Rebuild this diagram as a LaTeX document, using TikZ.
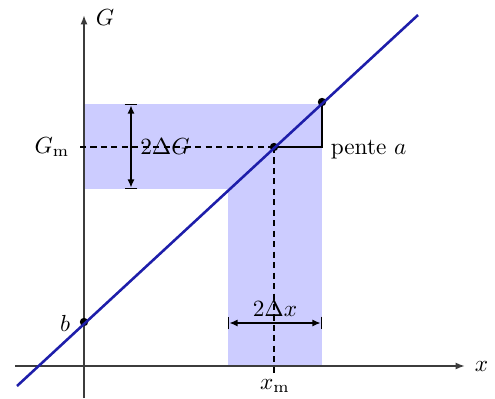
\documentclass[tikz,border=0pt]{standalone}
\usetikzlibrary{arrows.meta}
\definecolor{zonecol}{RGB}{204,204,255}
\definecolor{linec}{RGB}{30,30,170}
\definecolor{axisc}{RGB}{60,60,60}
\begin{document}
\begin{tikzpicture}[x=0.43pt,y=-0.43pt,
  axis/.style={draw=axisc,line width=0.75pt,-{Latex[length=4pt,width=3pt]}},
  dot/.style={circle,fill=black,inner sep=0pt,minimum size=3.6pt},
  dash line/.style={dash pattern=on 2.6pt off 1.9pt,line width=0.6pt},
  dim/.style={|<->|,>={Latex[length=3.5pt,width=3pt]},line width=0.6pt},
  lab/.style={inner sep=1pt}]
\useasboundingbox (0,0) rectangle (495,398);
% shaded zones
\fill[zonecol] (84,104) rectangle (322,189);
\fill[zonecol] (228,189) rectangle (322,366);
% axes
\coordinate (xs) at (15,366);
\coordinate (xe) at (465,366);
\coordinate (ys) at (84,398);
\coordinate (ye) at (84,15);
\draw[axis] (xs) -- (xe);
\draw[axis] (ys) -- (ye);
\node[lab,anchor=west] (Glab) at (93,18) {$G$};
\node[lab,anchor=west] (xlab) at (472,366) {$x$};
% points
\node[dot] (B) at (84,322) {};
\node[dot] (M) at (274,147) {};
\node[dot] (P) at (322,102) {};
\coordinate (L0) at (17,386);
\coordinate (L1) at (418,15);
\coordinate (C) at (322,147);
\coordinate (Dl) at (80,147);
\coordinate (Db) at (274,373);
% dashed lines
\draw[dash line] (Dl) -- (M.center);
\draw[dash line] (M.center) -- (Db);
% slope triangle
\draw[line width=0.7pt] (M.center) -- (C) -- (P.center);
% regression line
\draw[linec,line width=1.1pt] (L0) -- (L1);
% dimension arrows
\coordinate (g1) at (131,104);
\coordinate (g2) at (131,189);
\draw[dim] (g1) -- (g2);
\node[lab] (dG) at (165,147) {$2\Delta G$};
\coordinate (x1) at (228,323);
\coordinate (x2) at (322,323);
\draw[dim] (x1) -- (x2);
\node[lab] (dx) at (275,309) {$2\Delta x$};
% labels
\node[lab] (Gm) at (52,147) {$G_{\mathrm{m}}$};
\node[lab] (blab) at (65,323) {$b$};
\node[lab] (xm) at (275,386) {$x_{\mathrm{m}}$};
\node[lab,anchor=west] (pente) at (328,150) {pente $a$};
\end{tikzpicture}
\end{document}
